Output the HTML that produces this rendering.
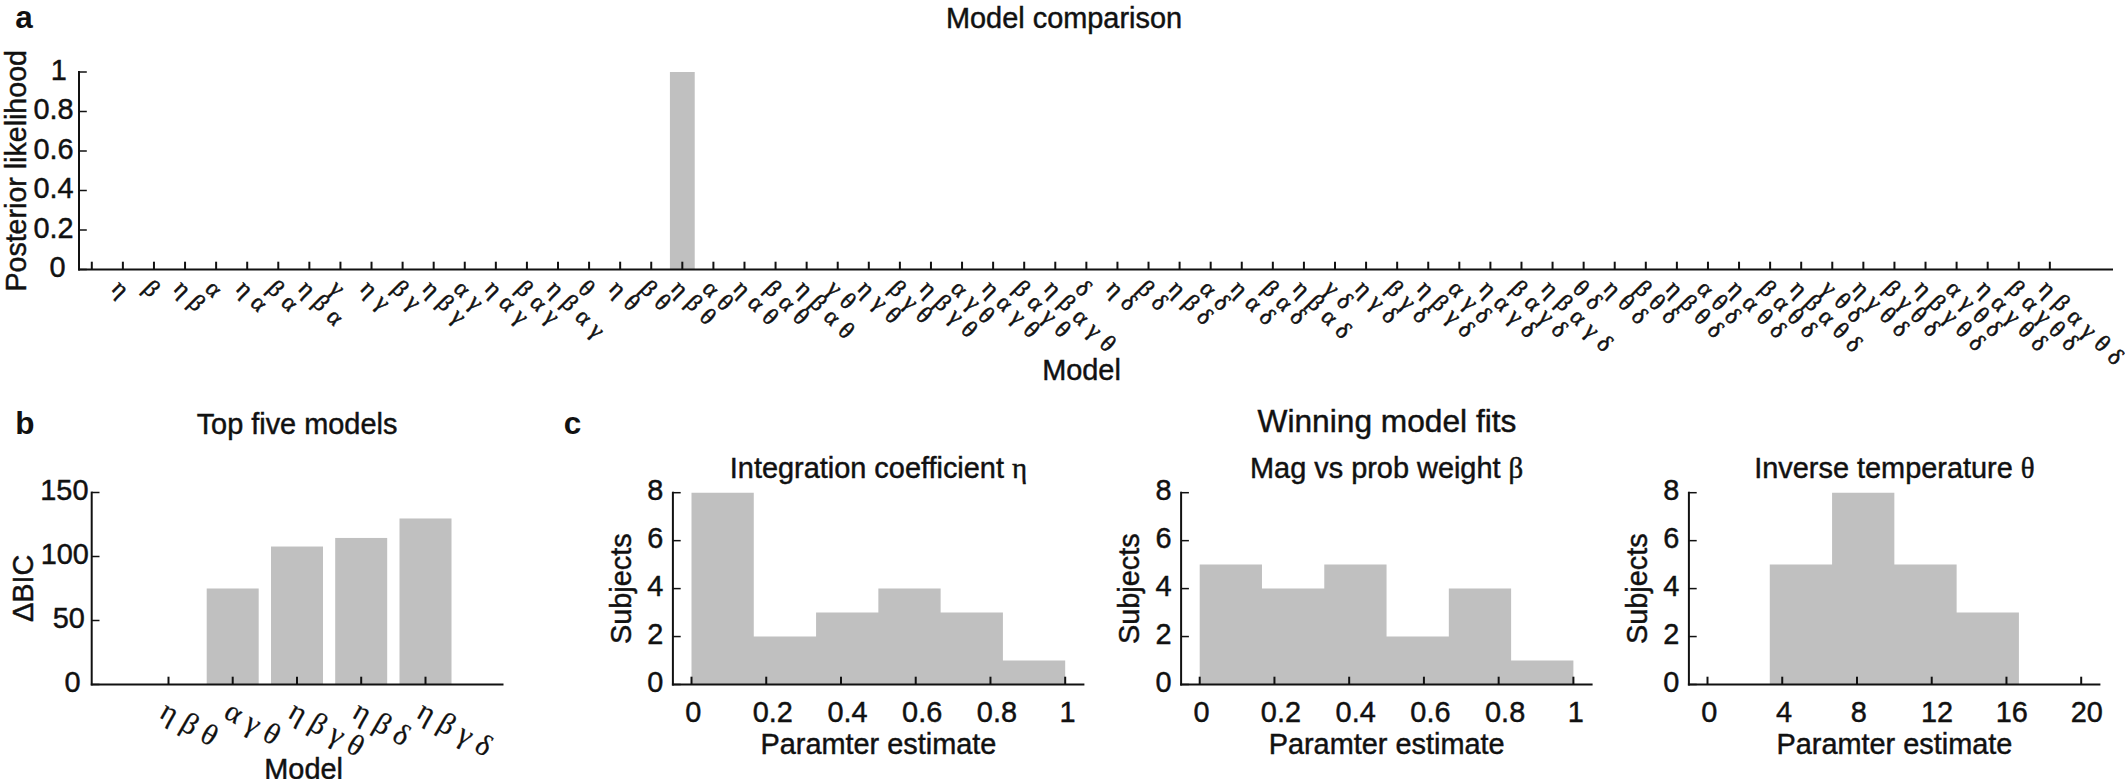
<!DOCTYPE html>
<html lang="en"><head><meta charset="utf-8"><title>Model comparison</title>
<style>
html,body{margin:0;padding:0;background:#fff;}
body{width:2125px;height:779px;overflow:hidden;}
svg{display:block;}
text{white-space:pre;}
</style></head><body>
<svg width="2125" height="779" viewBox="0 0 2125 779">
<rect x="0" y="0" width="2125" height="779" fill="#ffffff"/>
<text x="15.20" y="28.30" font-family='"Liberation Sans", sans-serif' font-size="31.5" font-weight="bold" text-anchor="start" fill="#111" stroke="#111" stroke-width="0">a</text>
<text x="1064.00" y="27.50" font-family='"Liberation Sans", sans-serif' font-size="28.9" font-weight="normal" text-anchor="middle" fill="#111" stroke="#111" stroke-width="0.45">Model comparison</text>
<rect x="669.92" y="72.00" width="24.80" height="197.50" fill="#c0c0c0"/>
<line x1="79.00" y1="71.10" x2="79.00" y2="270.40" stroke="#111" stroke-width="2.0"/>
<line x1="78.10" y1="269.50" x2="2113.00" y2="269.50" stroke="#111" stroke-width="2.0"/>
<line x1="79.00" y1="269.50" x2="86.80" y2="269.50" stroke="#111" stroke-width="1.5"/>
<text x="65.60" y="277.10" font-family='"Liberation Sans", sans-serif' font-size="28.9" font-weight="normal" text-anchor="end" fill="#111" stroke="#111" stroke-width="0.45">0</text>
<line x1="79.00" y1="230.00" x2="86.80" y2="230.00" stroke="#111" stroke-width="1.5"/>
<text x="73.60" y="237.60" font-family='"Liberation Sans", sans-serif' font-size="28.9" font-weight="normal" text-anchor="end" fill="#111" stroke="#111" stroke-width="0.45">0.2</text>
<line x1="79.00" y1="190.50" x2="86.80" y2="190.50" stroke="#111" stroke-width="1.5"/>
<text x="73.60" y="198.10" font-family='"Liberation Sans", sans-serif' font-size="28.9" font-weight="normal" text-anchor="end" fill="#111" stroke="#111" stroke-width="0.45">0.4</text>
<line x1="79.00" y1="151.00" x2="86.80" y2="151.00" stroke="#111" stroke-width="1.5"/>
<text x="73.60" y="158.60" font-family='"Liberation Sans", sans-serif' font-size="28.9" font-weight="normal" text-anchor="end" fill="#111" stroke="#111" stroke-width="0.45">0.6</text>
<line x1="79.00" y1="111.50" x2="86.80" y2="111.50" stroke="#111" stroke-width="1.5"/>
<text x="73.60" y="119.10" font-family='"Liberation Sans", sans-serif' font-size="28.9" font-weight="normal" text-anchor="end" fill="#111" stroke="#111" stroke-width="0.45">0.8</text>
<line x1="79.00" y1="72.00" x2="86.80" y2="72.00" stroke="#111" stroke-width="1.5"/>
<text x="66.80" y="79.60" font-family='"Liberation Sans", sans-serif' font-size="28.9" font-weight="normal" text-anchor="end" fill="#111" stroke="#111" stroke-width="0.45">1</text>
<text transform="translate(26.20,170.80) rotate(-90)" font-family='"Liberation Sans", sans-serif' font-size="28.6" font-weight="normal" text-anchor="middle" fill="#111" stroke="#111" stroke-width="0.45">Posterior likelihood</text>
<line x1="91.80" y1="269.50" x2="91.80" y2="261.70" stroke="#111" stroke-width="2.0"/>
<line x1="122.88" y1="269.50" x2="122.88" y2="261.70" stroke="#111" stroke-width="2.0"/>
<text transform="translate(110.68,289.80) rotate(45)" font-family='"Liberation Serif", serif' font-size="24.0" font-weight="normal" text-anchor="start" fill="#111" stroke="#111" stroke-width="0.55" word-spacing="1.5">η</text>
<line x1="153.96" y1="269.50" x2="153.96" y2="261.70" stroke="#111" stroke-width="2.0"/>
<text transform="translate(141.76,289.80) rotate(45)" font-family='"Liberation Serif", serif' font-size="24.0" font-weight="normal" text-anchor="start" fill="#111" stroke="#111" stroke-width="0.55" word-spacing="1.5">β</text>
<line x1="185.04" y1="269.50" x2="185.04" y2="261.70" stroke="#111" stroke-width="2.0"/>
<text transform="translate(172.84,289.80) rotate(45)" font-family='"Liberation Serif", serif' font-size="24.0" font-weight="normal" text-anchor="start" fill="#111" stroke="#111" stroke-width="0.55" word-spacing="1.5">η β</text>
<line x1="216.12" y1="269.50" x2="216.12" y2="261.70" stroke="#111" stroke-width="2.0"/>
<text transform="translate(203.92,289.80) rotate(45)" font-family='"Liberation Serif", serif' font-size="24.0" font-weight="normal" text-anchor="start" fill="#111" stroke="#111" stroke-width="0.55" word-spacing="1.5">α</text>
<line x1="247.20" y1="269.50" x2="247.20" y2="261.70" stroke="#111" stroke-width="2.0"/>
<text transform="translate(235.00,289.80) rotate(45)" font-family='"Liberation Serif", serif' font-size="24.0" font-weight="normal" text-anchor="start" fill="#111" stroke="#111" stroke-width="0.55" word-spacing="1.5">η α</text>
<line x1="278.28" y1="269.50" x2="278.28" y2="261.70" stroke="#111" stroke-width="2.0"/>
<text transform="translate(266.08,289.80) rotate(45)" font-family='"Liberation Serif", serif' font-size="24.0" font-weight="normal" text-anchor="start" fill="#111" stroke="#111" stroke-width="0.55" word-spacing="1.5">β α</text>
<line x1="309.36" y1="269.50" x2="309.36" y2="261.70" stroke="#111" stroke-width="2.0"/>
<text transform="translate(297.16,289.80) rotate(45)" font-family='"Liberation Serif", serif' font-size="24.0" font-weight="normal" text-anchor="start" fill="#111" stroke="#111" stroke-width="0.55" word-spacing="1.5">η β α</text>
<line x1="340.44" y1="269.50" x2="340.44" y2="261.70" stroke="#111" stroke-width="2.0"/>
<text transform="translate(328.24,289.80) rotate(45)" font-family='"Liberation Serif", serif' font-size="24.0" font-weight="normal" text-anchor="start" fill="#111" stroke="#111" stroke-width="0.55" word-spacing="1.5">γ</text>
<line x1="371.52" y1="269.50" x2="371.52" y2="261.70" stroke="#111" stroke-width="2.0"/>
<text transform="translate(359.32,289.80) rotate(45)" font-family='"Liberation Serif", serif' font-size="24.0" font-weight="normal" text-anchor="start" fill="#111" stroke="#111" stroke-width="0.55" word-spacing="1.5">η γ</text>
<line x1="402.60" y1="269.50" x2="402.60" y2="261.70" stroke="#111" stroke-width="2.0"/>
<text transform="translate(390.40,289.80) rotate(45)" font-family='"Liberation Serif", serif' font-size="24.0" font-weight="normal" text-anchor="start" fill="#111" stroke="#111" stroke-width="0.55" word-spacing="1.5">β γ</text>
<line x1="433.68" y1="269.50" x2="433.68" y2="261.70" stroke="#111" stroke-width="2.0"/>
<text transform="translate(421.48,289.80) rotate(45)" font-family='"Liberation Serif", serif' font-size="24.0" font-weight="normal" text-anchor="start" fill="#111" stroke="#111" stroke-width="0.55" word-spacing="1.5">η β γ</text>
<line x1="464.76" y1="269.50" x2="464.76" y2="261.70" stroke="#111" stroke-width="2.0"/>
<text transform="translate(452.56,289.80) rotate(45)" font-family='"Liberation Serif", serif' font-size="24.0" font-weight="normal" text-anchor="start" fill="#111" stroke="#111" stroke-width="0.55" word-spacing="1.5">α γ</text>
<line x1="495.84" y1="269.50" x2="495.84" y2="261.70" stroke="#111" stroke-width="2.0"/>
<text transform="translate(483.64,289.80) rotate(45)" font-family='"Liberation Serif", serif' font-size="24.0" font-weight="normal" text-anchor="start" fill="#111" stroke="#111" stroke-width="0.55" word-spacing="1.5">η α γ</text>
<line x1="526.92" y1="269.50" x2="526.92" y2="261.70" stroke="#111" stroke-width="2.0"/>
<text transform="translate(514.72,289.80) rotate(45)" font-family='"Liberation Serif", serif' font-size="24.0" font-weight="normal" text-anchor="start" fill="#111" stroke="#111" stroke-width="0.55" word-spacing="1.5">β α γ</text>
<line x1="558.00" y1="269.50" x2="558.00" y2="261.70" stroke="#111" stroke-width="2.0"/>
<text transform="translate(545.80,289.80) rotate(45)" font-family='"Liberation Serif", serif' font-size="24.0" font-weight="normal" text-anchor="start" fill="#111" stroke="#111" stroke-width="0.55" word-spacing="1.5">η β α γ</text>
<line x1="589.08" y1="269.50" x2="589.08" y2="261.70" stroke="#111" stroke-width="2.0"/>
<text transform="translate(576.88,289.80) rotate(45)" font-family='"Liberation Serif", serif' font-size="24.0" font-weight="normal" text-anchor="start" fill="#111" stroke="#111" stroke-width="0.55" word-spacing="1.5">θ</text>
<line x1="620.16" y1="269.50" x2="620.16" y2="261.70" stroke="#111" stroke-width="2.0"/>
<text transform="translate(607.96,289.80) rotate(45)" font-family='"Liberation Serif", serif' font-size="24.0" font-weight="normal" text-anchor="start" fill="#111" stroke="#111" stroke-width="0.55" word-spacing="1.5">η θ</text>
<line x1="651.24" y1="269.50" x2="651.24" y2="261.70" stroke="#111" stroke-width="2.0"/>
<text transform="translate(639.04,289.80) rotate(45)" font-family='"Liberation Serif", serif' font-size="24.0" font-weight="normal" text-anchor="start" fill="#111" stroke="#111" stroke-width="0.55" word-spacing="1.5">β θ</text>
<line x1="682.32" y1="269.50" x2="682.32" y2="261.70" stroke="#111" stroke-width="2.0"/>
<text transform="translate(670.12,289.80) rotate(45)" font-family='"Liberation Serif", serif' font-size="24.0" font-weight="normal" text-anchor="start" fill="#111" stroke="#111" stroke-width="0.55" word-spacing="1.5">η β θ</text>
<line x1="713.40" y1="269.50" x2="713.40" y2="261.70" stroke="#111" stroke-width="2.0"/>
<text transform="translate(701.20,289.80) rotate(45)" font-family='"Liberation Serif", serif' font-size="24.0" font-weight="normal" text-anchor="start" fill="#111" stroke="#111" stroke-width="0.55" word-spacing="1.5">α θ</text>
<line x1="744.48" y1="269.50" x2="744.48" y2="261.70" stroke="#111" stroke-width="2.0"/>
<text transform="translate(732.28,289.80) rotate(45)" font-family='"Liberation Serif", serif' font-size="24.0" font-weight="normal" text-anchor="start" fill="#111" stroke="#111" stroke-width="0.55" word-spacing="1.5">η α θ</text>
<line x1="775.56" y1="269.50" x2="775.56" y2="261.70" stroke="#111" stroke-width="2.0"/>
<text transform="translate(763.36,289.80) rotate(45)" font-family='"Liberation Serif", serif' font-size="24.0" font-weight="normal" text-anchor="start" fill="#111" stroke="#111" stroke-width="0.55" word-spacing="1.5">β α θ</text>
<line x1="806.64" y1="269.50" x2="806.64" y2="261.70" stroke="#111" stroke-width="2.0"/>
<text transform="translate(794.44,289.80) rotate(45)" font-family='"Liberation Serif", serif' font-size="24.0" font-weight="normal" text-anchor="start" fill="#111" stroke="#111" stroke-width="0.55" word-spacing="1.5">η β α θ</text>
<line x1="837.72" y1="269.50" x2="837.72" y2="261.70" stroke="#111" stroke-width="2.0"/>
<text transform="translate(825.52,289.80) rotate(45)" font-family='"Liberation Serif", serif' font-size="24.0" font-weight="normal" text-anchor="start" fill="#111" stroke="#111" stroke-width="0.55" word-spacing="1.5">γ θ</text>
<line x1="868.80" y1="269.50" x2="868.80" y2="261.70" stroke="#111" stroke-width="2.0"/>
<text transform="translate(856.60,289.80) rotate(45)" font-family='"Liberation Serif", serif' font-size="24.0" font-weight="normal" text-anchor="start" fill="#111" stroke="#111" stroke-width="0.55" word-spacing="1.5">η γ θ</text>
<line x1="899.88" y1="269.50" x2="899.88" y2="261.70" stroke="#111" stroke-width="2.0"/>
<text transform="translate(887.68,289.80) rotate(45)" font-family='"Liberation Serif", serif' font-size="24.0" font-weight="normal" text-anchor="start" fill="#111" stroke="#111" stroke-width="0.55" word-spacing="1.5">β γ θ</text>
<line x1="930.96" y1="269.50" x2="930.96" y2="261.70" stroke="#111" stroke-width="2.0"/>
<text transform="translate(918.76,289.80) rotate(45)" font-family='"Liberation Serif", serif' font-size="24.0" font-weight="normal" text-anchor="start" fill="#111" stroke="#111" stroke-width="0.55" word-spacing="1.5">η β γ θ</text>
<line x1="962.04" y1="269.50" x2="962.04" y2="261.70" stroke="#111" stroke-width="2.0"/>
<text transform="translate(949.84,289.80) rotate(45)" font-family='"Liberation Serif", serif' font-size="24.0" font-weight="normal" text-anchor="start" fill="#111" stroke="#111" stroke-width="0.55" word-spacing="1.5">α γ θ</text>
<line x1="993.12" y1="269.50" x2="993.12" y2="261.70" stroke="#111" stroke-width="2.0"/>
<text transform="translate(980.92,289.80) rotate(45)" font-family='"Liberation Serif", serif' font-size="24.0" font-weight="normal" text-anchor="start" fill="#111" stroke="#111" stroke-width="0.55" word-spacing="1.5">η α γ θ</text>
<line x1="1024.20" y1="269.50" x2="1024.20" y2="261.70" stroke="#111" stroke-width="2.0"/>
<text transform="translate(1012.00,289.80) rotate(45)" font-family='"Liberation Serif", serif' font-size="24.0" font-weight="normal" text-anchor="start" fill="#111" stroke="#111" stroke-width="0.55" word-spacing="1.5">β α γ θ</text>
<line x1="1055.28" y1="269.50" x2="1055.28" y2="261.70" stroke="#111" stroke-width="2.0"/>
<text transform="translate(1043.08,289.80) rotate(45)" font-family='"Liberation Serif", serif' font-size="24.0" font-weight="normal" text-anchor="start" fill="#111" stroke="#111" stroke-width="0.55" word-spacing="1.5">η β α γ θ</text>
<line x1="1086.36" y1="269.50" x2="1086.36" y2="261.70" stroke="#111" stroke-width="2.0"/>
<text transform="translate(1074.16,289.80) rotate(45)" font-family='"Liberation Serif", serif' font-size="24.0" font-weight="normal" text-anchor="start" fill="#111" stroke="#111" stroke-width="0.55" word-spacing="1.5">δ</text>
<line x1="1117.44" y1="269.50" x2="1117.44" y2="261.70" stroke="#111" stroke-width="2.0"/>
<text transform="translate(1105.24,289.80) rotate(45)" font-family='"Liberation Serif", serif' font-size="24.0" font-weight="normal" text-anchor="start" fill="#111" stroke="#111" stroke-width="0.55" word-spacing="1.5">η δ</text>
<line x1="1148.52" y1="269.50" x2="1148.52" y2="261.70" stroke="#111" stroke-width="2.0"/>
<text transform="translate(1136.32,289.80) rotate(45)" font-family='"Liberation Serif", serif' font-size="24.0" font-weight="normal" text-anchor="start" fill="#111" stroke="#111" stroke-width="0.55" word-spacing="1.5">β δ</text>
<line x1="1179.60" y1="269.50" x2="1179.60" y2="261.70" stroke="#111" stroke-width="2.0"/>
<text transform="translate(1167.40,289.80) rotate(45)" font-family='"Liberation Serif", serif' font-size="24.0" font-weight="normal" text-anchor="start" fill="#111" stroke="#111" stroke-width="0.55" word-spacing="1.5">η β δ</text>
<line x1="1210.68" y1="269.50" x2="1210.68" y2="261.70" stroke="#111" stroke-width="2.0"/>
<text transform="translate(1198.48,289.80) rotate(45)" font-family='"Liberation Serif", serif' font-size="24.0" font-weight="normal" text-anchor="start" fill="#111" stroke="#111" stroke-width="0.55" word-spacing="1.5">α δ</text>
<line x1="1241.76" y1="269.50" x2="1241.76" y2="261.70" stroke="#111" stroke-width="2.0"/>
<text transform="translate(1229.56,289.80) rotate(45)" font-family='"Liberation Serif", serif' font-size="24.0" font-weight="normal" text-anchor="start" fill="#111" stroke="#111" stroke-width="0.55" word-spacing="1.5">η α δ</text>
<line x1="1272.84" y1="269.50" x2="1272.84" y2="261.70" stroke="#111" stroke-width="2.0"/>
<text transform="translate(1260.64,289.80) rotate(45)" font-family='"Liberation Serif", serif' font-size="24.0" font-weight="normal" text-anchor="start" fill="#111" stroke="#111" stroke-width="0.55" word-spacing="1.5">β α δ</text>
<line x1="1303.92" y1="269.50" x2="1303.92" y2="261.70" stroke="#111" stroke-width="2.0"/>
<text transform="translate(1291.72,289.80) rotate(45)" font-family='"Liberation Serif", serif' font-size="24.0" font-weight="normal" text-anchor="start" fill="#111" stroke="#111" stroke-width="0.55" word-spacing="1.5">η β α δ</text>
<line x1="1335.00" y1="269.50" x2="1335.00" y2="261.70" stroke="#111" stroke-width="2.0"/>
<text transform="translate(1322.80,289.80) rotate(45)" font-family='"Liberation Serif", serif' font-size="24.0" font-weight="normal" text-anchor="start" fill="#111" stroke="#111" stroke-width="0.55" word-spacing="1.5">γ δ</text>
<line x1="1366.08" y1="269.50" x2="1366.08" y2="261.70" stroke="#111" stroke-width="2.0"/>
<text transform="translate(1353.88,289.80) rotate(45)" font-family='"Liberation Serif", serif' font-size="24.0" font-weight="normal" text-anchor="start" fill="#111" stroke="#111" stroke-width="0.55" word-spacing="1.5">η γ δ</text>
<line x1="1397.16" y1="269.50" x2="1397.16" y2="261.70" stroke="#111" stroke-width="2.0"/>
<text transform="translate(1384.96,289.80) rotate(45)" font-family='"Liberation Serif", serif' font-size="24.0" font-weight="normal" text-anchor="start" fill="#111" stroke="#111" stroke-width="0.55" word-spacing="1.5">β γ δ</text>
<line x1="1428.24" y1="269.50" x2="1428.24" y2="261.70" stroke="#111" stroke-width="2.0"/>
<text transform="translate(1416.04,289.80) rotate(45)" font-family='"Liberation Serif", serif' font-size="24.0" font-weight="normal" text-anchor="start" fill="#111" stroke="#111" stroke-width="0.55" word-spacing="1.5">η β γ δ</text>
<line x1="1459.32" y1="269.50" x2="1459.32" y2="261.70" stroke="#111" stroke-width="2.0"/>
<text transform="translate(1447.12,289.80) rotate(45)" font-family='"Liberation Serif", serif' font-size="24.0" font-weight="normal" text-anchor="start" fill="#111" stroke="#111" stroke-width="0.55" word-spacing="1.5">α γ δ</text>
<line x1="1490.40" y1="269.50" x2="1490.40" y2="261.70" stroke="#111" stroke-width="2.0"/>
<text transform="translate(1478.20,289.80) rotate(45)" font-family='"Liberation Serif", serif' font-size="24.0" font-weight="normal" text-anchor="start" fill="#111" stroke="#111" stroke-width="0.55" word-spacing="1.5">η α γ δ</text>
<line x1="1521.48" y1="269.50" x2="1521.48" y2="261.70" stroke="#111" stroke-width="2.0"/>
<text transform="translate(1509.28,289.80) rotate(45)" font-family='"Liberation Serif", serif' font-size="24.0" font-weight="normal" text-anchor="start" fill="#111" stroke="#111" stroke-width="0.55" word-spacing="1.5">β α γ δ</text>
<line x1="1552.56" y1="269.50" x2="1552.56" y2="261.70" stroke="#111" stroke-width="2.0"/>
<text transform="translate(1540.36,289.80) rotate(45)" font-family='"Liberation Serif", serif' font-size="24.0" font-weight="normal" text-anchor="start" fill="#111" stroke="#111" stroke-width="0.55" word-spacing="1.5">η β α γ δ</text>
<line x1="1583.64" y1="269.50" x2="1583.64" y2="261.70" stroke="#111" stroke-width="2.0"/>
<text transform="translate(1571.44,289.80) rotate(45)" font-family='"Liberation Serif", serif' font-size="24.0" font-weight="normal" text-anchor="start" fill="#111" stroke="#111" stroke-width="0.55" word-spacing="1.5">θ δ</text>
<line x1="1614.72" y1="269.50" x2="1614.72" y2="261.70" stroke="#111" stroke-width="2.0"/>
<text transform="translate(1602.52,289.80) rotate(45)" font-family='"Liberation Serif", serif' font-size="24.0" font-weight="normal" text-anchor="start" fill="#111" stroke="#111" stroke-width="0.55" word-spacing="1.5">η θ δ</text>
<line x1="1645.80" y1="269.50" x2="1645.80" y2="261.70" stroke="#111" stroke-width="2.0"/>
<text transform="translate(1633.60,289.80) rotate(45)" font-family='"Liberation Serif", serif' font-size="24.0" font-weight="normal" text-anchor="start" fill="#111" stroke="#111" stroke-width="0.55" word-spacing="1.5">β θ δ</text>
<line x1="1676.88" y1="269.50" x2="1676.88" y2="261.70" stroke="#111" stroke-width="2.0"/>
<text transform="translate(1664.68,289.80) rotate(45)" font-family='"Liberation Serif", serif' font-size="24.0" font-weight="normal" text-anchor="start" fill="#111" stroke="#111" stroke-width="0.55" word-spacing="1.5">η β θ δ</text>
<line x1="1707.96" y1="269.50" x2="1707.96" y2="261.70" stroke="#111" stroke-width="2.0"/>
<text transform="translate(1695.76,289.80) rotate(45)" font-family='"Liberation Serif", serif' font-size="24.0" font-weight="normal" text-anchor="start" fill="#111" stroke="#111" stroke-width="0.55" word-spacing="1.5">α θ δ</text>
<line x1="1739.04" y1="269.50" x2="1739.04" y2="261.70" stroke="#111" stroke-width="2.0"/>
<text transform="translate(1726.84,289.80) rotate(45)" font-family='"Liberation Serif", serif' font-size="24.0" font-weight="normal" text-anchor="start" fill="#111" stroke="#111" stroke-width="0.55" word-spacing="1.5">η α θ δ</text>
<line x1="1770.12" y1="269.50" x2="1770.12" y2="261.70" stroke="#111" stroke-width="2.0"/>
<text transform="translate(1757.92,289.80) rotate(45)" font-family='"Liberation Serif", serif' font-size="24.0" font-weight="normal" text-anchor="start" fill="#111" stroke="#111" stroke-width="0.55" word-spacing="1.5">β α θ δ</text>
<line x1="1801.20" y1="269.50" x2="1801.20" y2="261.70" stroke="#111" stroke-width="2.0"/>
<text transform="translate(1789.00,289.80) rotate(45)" font-family='"Liberation Serif", serif' font-size="24.0" font-weight="normal" text-anchor="start" fill="#111" stroke="#111" stroke-width="0.55" word-spacing="1.5">η β α θ δ</text>
<line x1="1832.28" y1="269.50" x2="1832.28" y2="261.70" stroke="#111" stroke-width="2.0"/>
<text transform="translate(1820.08,289.80) rotate(45)" font-family='"Liberation Serif", serif' font-size="24.0" font-weight="normal" text-anchor="start" fill="#111" stroke="#111" stroke-width="0.55" word-spacing="1.5">γ θ δ</text>
<line x1="1863.36" y1="269.50" x2="1863.36" y2="261.70" stroke="#111" stroke-width="2.0"/>
<text transform="translate(1851.16,289.80) rotate(45)" font-family='"Liberation Serif", serif' font-size="24.0" font-weight="normal" text-anchor="start" fill="#111" stroke="#111" stroke-width="0.55" word-spacing="1.5">η γ θ δ</text>
<line x1="1894.44" y1="269.50" x2="1894.44" y2="261.70" stroke="#111" stroke-width="2.0"/>
<text transform="translate(1882.24,289.80) rotate(45)" font-family='"Liberation Serif", serif' font-size="24.0" font-weight="normal" text-anchor="start" fill="#111" stroke="#111" stroke-width="0.55" word-spacing="1.5">β γ θ δ</text>
<line x1="1925.52" y1="269.50" x2="1925.52" y2="261.70" stroke="#111" stroke-width="2.0"/>
<text transform="translate(1913.32,289.80) rotate(45)" font-family='"Liberation Serif", serif' font-size="24.0" font-weight="normal" text-anchor="start" fill="#111" stroke="#111" stroke-width="0.55" word-spacing="1.5">η β γ θ δ</text>
<line x1="1956.60" y1="269.50" x2="1956.60" y2="261.70" stroke="#111" stroke-width="2.0"/>
<text transform="translate(1944.40,289.80) rotate(45)" font-family='"Liberation Serif", serif' font-size="24.0" font-weight="normal" text-anchor="start" fill="#111" stroke="#111" stroke-width="0.55" word-spacing="1.5">α γ θ δ</text>
<line x1="1987.68" y1="269.50" x2="1987.68" y2="261.70" stroke="#111" stroke-width="2.0"/>
<text transform="translate(1975.48,289.80) rotate(45)" font-family='"Liberation Serif", serif' font-size="24.0" font-weight="normal" text-anchor="start" fill="#111" stroke="#111" stroke-width="0.55" word-spacing="1.5">η α γ θ δ</text>
<line x1="2018.76" y1="269.50" x2="2018.76" y2="261.70" stroke="#111" stroke-width="2.0"/>
<text transform="translate(2006.56,289.80) rotate(45)" font-family='"Liberation Serif", serif' font-size="24.0" font-weight="normal" text-anchor="start" fill="#111" stroke="#111" stroke-width="0.55" word-spacing="1.5">β α γ θ δ</text>
<line x1="2049.84" y1="269.50" x2="2049.84" y2="261.70" stroke="#111" stroke-width="2.0"/>
<text transform="translate(2037.64,289.80) rotate(45)" font-family='"Liberation Serif", serif' font-size="24.0" font-weight="normal" text-anchor="start" fill="#111" stroke="#111" stroke-width="0.55" word-spacing="1.5">η β α γ θ δ</text>
<text x="1081.50" y="379.80" font-family='"Liberation Sans", sans-serif' font-size="28.9" font-weight="normal" text-anchor="middle" fill="#111" stroke="#111" stroke-width="0.45">Model</text>
<text x="15.20" y="434.00" font-family='"Liberation Sans", sans-serif' font-size="31.5" font-weight="bold" text-anchor="start" fill="#111" stroke="#111" stroke-width="0">b</text>
<text x="297.00" y="433.80" font-family='"Liberation Sans", sans-serif' font-size="28.9" font-weight="normal" text-anchor="middle" fill="#111" stroke="#111" stroke-width="0.45">Top five models</text>
<rect x="206.70" y="588.50" width="52.00" height="96.00" fill="#c0c0c0"/>
<rect x="271.00" y="546.52" width="52.00" height="137.98" fill="#c0c0c0"/>
<rect x="335.20" y="537.94" width="52.00" height="146.56" fill="#c0c0c0"/>
<rect x="399.50" y="518.48" width="52.00" height="166.02" fill="#c0c0c0"/>
<line x1="91.70" y1="491.60" x2="91.70" y2="685.40" stroke="#111" stroke-width="2.0"/>
<line x1="90.80" y1="684.50" x2="503.50" y2="684.50" stroke="#111" stroke-width="2.0"/>
<line x1="91.70" y1="684.50" x2="99.50" y2="684.50" stroke="#111" stroke-width="1.5"/>
<text x="80.70" y="692.10" font-family='"Liberation Sans", sans-serif' font-size="28.9" font-weight="normal" text-anchor="end" fill="#111" stroke="#111" stroke-width="0.45">0</text>
<line x1="91.70" y1="620.50" x2="99.50" y2="620.50" stroke="#111" stroke-width="1.5"/>
<text x="84.80" y="628.10" font-family='"Liberation Sans", sans-serif' font-size="28.9" font-weight="normal" text-anchor="end" fill="#111" stroke="#111" stroke-width="0.45">50</text>
<line x1="91.70" y1="556.50" x2="99.50" y2="556.50" stroke="#111" stroke-width="1.5"/>
<text x="88.90" y="564.10" font-family='"Liberation Sans", sans-serif' font-size="28.9" font-weight="normal" text-anchor="end" fill="#111" stroke="#111" stroke-width="0.45">100</text>
<line x1="91.70" y1="492.50" x2="99.50" y2="492.50" stroke="#111" stroke-width="1.5"/>
<text x="88.50" y="500.10" font-family='"Liberation Sans", sans-serif' font-size="28.9" font-weight="normal" text-anchor="end" fill="#111" stroke="#111" stroke-width="0.45">150</text>
<text transform="translate(32.90,588.30) rotate(-90)" font-family='"Liberation Sans", sans-serif' font-size="28.9" font-weight="normal" text-anchor="middle" fill="#111" stroke="#111" stroke-width="0.45">ΔBIC</text>
<line x1="168.50" y1="684.50" x2="168.50" y2="676.70" stroke="#111" stroke-width="2.0"/>
<text transform="translate(158.35,716.85) rotate(30)" font-family='"Liberation Serif", serif' font-size="30" font-weight="normal" text-anchor="start" fill="#111" stroke="#111" stroke-width="0.25">η β θ</text>
<line x1="232.70" y1="684.50" x2="232.70" y2="676.70" stroke="#111" stroke-width="2.0"/>
<text transform="translate(222.55,716.85) rotate(30)" font-family='"Liberation Serif", serif' font-size="30" font-weight="normal" text-anchor="start" fill="#111" stroke="#111" stroke-width="0.25">α γ θ</text>
<line x1="297.00" y1="684.50" x2="297.00" y2="676.70" stroke="#111" stroke-width="2.0"/>
<text transform="translate(286.85,716.85) rotate(30)" font-family='"Liberation Serif", serif' font-size="30" font-weight="normal" text-anchor="start" fill="#111" stroke="#111" stroke-width="0.25">η β γ θ</text>
<line x1="361.20" y1="684.50" x2="361.20" y2="676.70" stroke="#111" stroke-width="2.0"/>
<text transform="translate(351.05,716.85) rotate(30)" font-family='"Liberation Serif", serif' font-size="30" font-weight="normal" text-anchor="start" fill="#111" stroke="#111" stroke-width="0.25">η β δ</text>
<line x1="425.50" y1="684.50" x2="425.50" y2="676.70" stroke="#111" stroke-width="2.0"/>
<text transform="translate(415.35,716.85) rotate(30)" font-family='"Liberation Serif", serif' font-size="30" font-weight="normal" text-anchor="start" fill="#111" stroke="#111" stroke-width="0.25">η β γ δ</text>
<text x="303.60" y="778.60" font-family='"Liberation Sans", sans-serif' font-size="28.9" font-weight="normal" text-anchor="middle" fill="#111" stroke="#111" stroke-width="0.45">Model</text>
<text x="563.70" y="434.20" font-family='"Liberation Sans", sans-serif' font-size="31.5" font-weight="bold" text-anchor="start" fill="#111" stroke="#111" stroke-width="0">c</text>
<text x="1387.00" y="431.90" font-family='"Liberation Sans", sans-serif' font-size="31.7" font-weight="normal" text-anchor="middle" fill="#111" stroke="#111" stroke-width="0.45">Winning model fits</text>
<polygon fill="#c0c0c0" points="691.50,684.50 691.50,492.70 753.78,492.70 753.78,636.55 816.07,636.55 816.07,612.58 878.35,612.58 878.35,588.60 940.63,588.60 940.63,612.58 1002.92,612.58 1002.92,660.52 1065.20,660.52 1065.20,684.50"/>
<line x1="672.90" y1="491.70" x2="672.90" y2="685.50" stroke="#111" stroke-width="2.0"/>
<line x1="671.90" y1="684.50" x2="1084.40" y2="684.50" stroke="#111" stroke-width="2.0"/>
<line x1="672.90" y1="684.50" x2="680.70" y2="684.50" stroke="#111" stroke-width="1.5"/>
<text x="663.30" y="692.10" font-family='"Liberation Sans", sans-serif' font-size="28.9" font-weight="normal" text-anchor="end" fill="#111" stroke="#111" stroke-width="0.45">0</text>
<line x1="672.90" y1="636.55" x2="680.70" y2="636.55" stroke="#111" stroke-width="1.5"/>
<text x="663.30" y="644.15" font-family='"Liberation Sans", sans-serif' font-size="28.9" font-weight="normal" text-anchor="end" fill="#111" stroke="#111" stroke-width="0.45">2</text>
<line x1="672.90" y1="588.60" x2="680.70" y2="588.60" stroke="#111" stroke-width="1.5"/>
<text x="663.30" y="596.20" font-family='"Liberation Sans", sans-serif' font-size="28.9" font-weight="normal" text-anchor="end" fill="#111" stroke="#111" stroke-width="0.45">4</text>
<line x1="672.90" y1="540.65" x2="680.70" y2="540.65" stroke="#111" stroke-width="1.5"/>
<text x="663.30" y="548.25" font-family='"Liberation Sans", sans-serif' font-size="28.9" font-weight="normal" text-anchor="end" fill="#111" stroke="#111" stroke-width="0.45">6</text>
<line x1="672.90" y1="492.70" x2="680.70" y2="492.70" stroke="#111" stroke-width="1.5"/>
<text x="663.30" y="500.30" font-family='"Liberation Sans", sans-serif' font-size="28.9" font-weight="normal" text-anchor="end" fill="#111" stroke="#111" stroke-width="0.45">8</text>
<line x1="691.50" y1="684.50" x2="691.50" y2="676.70" stroke="#111" stroke-width="2.0"/>
<text x="685.30" y="721.60" font-family='"Liberation Sans", sans-serif' font-size="28.9" font-weight="normal" text-anchor="start" fill="#111" stroke="#111" stroke-width="0.45">0</text>
<line x1="766.24" y1="684.50" x2="766.24" y2="676.70" stroke="#111" stroke-width="2.0"/>
<text x="752.64" y="721.60" font-family='"Liberation Sans", sans-serif' font-size="28.9" font-weight="normal" text-anchor="start" fill="#111" stroke="#111" stroke-width="0.45">0.2</text>
<line x1="840.98" y1="684.50" x2="840.98" y2="676.70" stroke="#111" stroke-width="2.0"/>
<text x="827.38" y="721.60" font-family='"Liberation Sans", sans-serif' font-size="28.9" font-weight="normal" text-anchor="start" fill="#111" stroke="#111" stroke-width="0.45">0.4</text>
<line x1="915.72" y1="684.50" x2="915.72" y2="676.70" stroke="#111" stroke-width="2.0"/>
<text x="902.12" y="721.60" font-family='"Liberation Sans", sans-serif' font-size="28.9" font-weight="normal" text-anchor="start" fill="#111" stroke="#111" stroke-width="0.45">0.6</text>
<line x1="990.46" y1="684.50" x2="990.46" y2="676.70" stroke="#111" stroke-width="2.0"/>
<text x="976.86" y="721.60" font-family='"Liberation Sans", sans-serif' font-size="28.9" font-weight="normal" text-anchor="start" fill="#111" stroke="#111" stroke-width="0.45">0.8</text>
<line x1="1065.20" y1="684.50" x2="1065.20" y2="676.70" stroke="#111" stroke-width="2.0"/>
<text x="1059.60" y="721.60" font-family='"Liberation Sans", sans-serif' font-size="28.9" font-weight="normal" text-anchor="start" fill="#111" stroke="#111" stroke-width="0.45">1</text>
<text transform="translate(631.10,588.70) rotate(-90)" font-family='"Liberation Sans", sans-serif' font-size="28.9" font-weight="normal" text-anchor="middle" fill="#111" stroke="#111" stroke-width="0.45">Subjects</text>
<text x="878.45" y="478.30" font-family='"Liberation Sans", sans-serif' font-size="28.9" font-weight="normal" text-anchor="middle" fill="#111" stroke="#111" stroke-width="0.45">Integration coefficient <tspan font-family='"Liberation Serif", serif'>η</tspan></text>
<text x="878.45" y="754.00" font-family='"Liberation Sans", sans-serif' font-size="28.9" font-weight="normal" text-anchor="middle" fill="#111" stroke="#111" stroke-width="0.45">Paramter estimate</text>
<polygon fill="#c0c0c0" points="1199.70,684.50 1199.70,564.62 1261.98,564.62 1261.98,588.60 1324.27,588.60 1324.27,564.62 1386.55,564.62 1386.55,636.55 1448.83,636.55 1448.83,588.60 1511.12,588.60 1511.12,660.52 1573.40,660.52 1573.40,684.50"/>
<line x1="1181.10" y1="491.70" x2="1181.10" y2="685.50" stroke="#111" stroke-width="2.0"/>
<line x1="1180.10" y1="684.50" x2="1592.60" y2="684.50" stroke="#111" stroke-width="2.0"/>
<line x1="1181.10" y1="684.50" x2="1188.90" y2="684.50" stroke="#111" stroke-width="1.5"/>
<text x="1171.50" y="692.10" font-family='"Liberation Sans", sans-serif' font-size="28.9" font-weight="normal" text-anchor="end" fill="#111" stroke="#111" stroke-width="0.45">0</text>
<line x1="1181.10" y1="636.55" x2="1188.90" y2="636.55" stroke="#111" stroke-width="1.5"/>
<text x="1171.50" y="644.15" font-family='"Liberation Sans", sans-serif' font-size="28.9" font-weight="normal" text-anchor="end" fill="#111" stroke="#111" stroke-width="0.45">2</text>
<line x1="1181.10" y1="588.60" x2="1188.90" y2="588.60" stroke="#111" stroke-width="1.5"/>
<text x="1171.50" y="596.20" font-family='"Liberation Sans", sans-serif' font-size="28.9" font-weight="normal" text-anchor="end" fill="#111" stroke="#111" stroke-width="0.45">4</text>
<line x1="1181.10" y1="540.65" x2="1188.90" y2="540.65" stroke="#111" stroke-width="1.5"/>
<text x="1171.50" y="548.25" font-family='"Liberation Sans", sans-serif' font-size="28.9" font-weight="normal" text-anchor="end" fill="#111" stroke="#111" stroke-width="0.45">6</text>
<line x1="1181.10" y1="492.70" x2="1188.90" y2="492.70" stroke="#111" stroke-width="1.5"/>
<text x="1171.50" y="500.30" font-family='"Liberation Sans", sans-serif' font-size="28.9" font-weight="normal" text-anchor="end" fill="#111" stroke="#111" stroke-width="0.45">8</text>
<line x1="1199.70" y1="684.50" x2="1199.70" y2="676.70" stroke="#111" stroke-width="2.0"/>
<text x="1193.50" y="721.60" font-family='"Liberation Sans", sans-serif' font-size="28.9" font-weight="normal" text-anchor="start" fill="#111" stroke="#111" stroke-width="0.45">0</text>
<line x1="1274.44" y1="684.50" x2="1274.44" y2="676.70" stroke="#111" stroke-width="2.0"/>
<text x="1260.84" y="721.60" font-family='"Liberation Sans", sans-serif' font-size="28.9" font-weight="normal" text-anchor="start" fill="#111" stroke="#111" stroke-width="0.45">0.2</text>
<line x1="1349.18" y1="684.50" x2="1349.18" y2="676.70" stroke="#111" stroke-width="2.0"/>
<text x="1335.58" y="721.60" font-family='"Liberation Sans", sans-serif' font-size="28.9" font-weight="normal" text-anchor="start" fill="#111" stroke="#111" stroke-width="0.45">0.4</text>
<line x1="1423.92" y1="684.50" x2="1423.92" y2="676.70" stroke="#111" stroke-width="2.0"/>
<text x="1410.32" y="721.60" font-family='"Liberation Sans", sans-serif' font-size="28.9" font-weight="normal" text-anchor="start" fill="#111" stroke="#111" stroke-width="0.45">0.6</text>
<line x1="1498.66" y1="684.50" x2="1498.66" y2="676.70" stroke="#111" stroke-width="2.0"/>
<text x="1485.06" y="721.60" font-family='"Liberation Sans", sans-serif' font-size="28.9" font-weight="normal" text-anchor="start" fill="#111" stroke="#111" stroke-width="0.45">0.8</text>
<line x1="1573.40" y1="684.50" x2="1573.40" y2="676.70" stroke="#111" stroke-width="2.0"/>
<text x="1567.80" y="721.60" font-family='"Liberation Sans", sans-serif' font-size="28.9" font-weight="normal" text-anchor="start" fill="#111" stroke="#111" stroke-width="0.45">1</text>
<text transform="translate(1139.30,588.70) rotate(-90)" font-family='"Liberation Sans", sans-serif' font-size="28.9" font-weight="normal" text-anchor="middle" fill="#111" stroke="#111" stroke-width="0.45">Subjects</text>
<text x="1386.65" y="478.30" font-family='"Liberation Sans", sans-serif' font-size="28.9" font-weight="normal" text-anchor="middle" fill="#111" stroke="#111" stroke-width="0.45">Mag vs prob weight <tspan font-family='"Liberation Serif", serif'>β</tspan></text>
<text x="1386.65" y="754.00" font-family='"Liberation Sans", sans-serif' font-size="28.9" font-weight="normal" text-anchor="middle" fill="#111" stroke="#111" stroke-width="0.45">Paramter estimate</text>
<polygon fill="#c0c0c0" points="1769.78,684.50 1769.78,564.62 1832.07,564.62 1832.07,492.70 1894.35,492.70 1894.35,564.62 1956.63,564.62 1956.63,612.58 2018.92,612.58 2018.92,684.50"/>
<line x1="1688.90" y1="491.70" x2="1688.90" y2="685.50" stroke="#111" stroke-width="2.0"/>
<line x1="1687.90" y1="684.50" x2="2100.40" y2="684.50" stroke="#111" stroke-width="2.0"/>
<line x1="1688.90" y1="684.50" x2="1696.70" y2="684.50" stroke="#111" stroke-width="1.5"/>
<text x="1679.30" y="692.10" font-family='"Liberation Sans", sans-serif' font-size="28.9" font-weight="normal" text-anchor="end" fill="#111" stroke="#111" stroke-width="0.45">0</text>
<line x1="1688.90" y1="636.55" x2="1696.70" y2="636.55" stroke="#111" stroke-width="1.5"/>
<text x="1679.30" y="644.15" font-family='"Liberation Sans", sans-serif' font-size="28.9" font-weight="normal" text-anchor="end" fill="#111" stroke="#111" stroke-width="0.45">2</text>
<line x1="1688.90" y1="588.60" x2="1696.70" y2="588.60" stroke="#111" stroke-width="1.5"/>
<text x="1679.30" y="596.20" font-family='"Liberation Sans", sans-serif' font-size="28.9" font-weight="normal" text-anchor="end" fill="#111" stroke="#111" stroke-width="0.45">4</text>
<line x1="1688.90" y1="540.65" x2="1696.70" y2="540.65" stroke="#111" stroke-width="1.5"/>
<text x="1679.30" y="548.25" font-family='"Liberation Sans", sans-serif' font-size="28.9" font-weight="normal" text-anchor="end" fill="#111" stroke="#111" stroke-width="0.45">6</text>
<line x1="1688.90" y1="492.70" x2="1696.70" y2="492.70" stroke="#111" stroke-width="1.5"/>
<text x="1679.30" y="500.30" font-family='"Liberation Sans", sans-serif' font-size="28.9" font-weight="normal" text-anchor="end" fill="#111" stroke="#111" stroke-width="0.45">8</text>
<line x1="1707.50" y1="684.50" x2="1707.50" y2="676.70" stroke="#111" stroke-width="2.0"/>
<text x="1701.30" y="721.60" font-family='"Liberation Sans", sans-serif' font-size="28.9" font-weight="normal" text-anchor="start" fill="#111" stroke="#111" stroke-width="0.45">0</text>
<line x1="1782.24" y1="684.50" x2="1782.24" y2="676.70" stroke="#111" stroke-width="2.0"/>
<text x="1776.04" y="721.60" font-family='"Liberation Sans", sans-serif' font-size="28.9" font-weight="normal" text-anchor="start" fill="#111" stroke="#111" stroke-width="0.45">4</text>
<line x1="1856.98" y1="684.50" x2="1856.98" y2="676.70" stroke="#111" stroke-width="2.0"/>
<text x="1850.78" y="721.60" font-family='"Liberation Sans", sans-serif' font-size="28.9" font-weight="normal" text-anchor="start" fill="#111" stroke="#111" stroke-width="0.45">8</text>
<line x1="1931.72" y1="684.50" x2="1931.72" y2="676.70" stroke="#111" stroke-width="2.0"/>
<text x="1920.92" y="721.60" font-family='"Liberation Sans", sans-serif' font-size="28.9" font-weight="normal" text-anchor="start" fill="#111" stroke="#111" stroke-width="0.45">12</text>
<line x1="2006.46" y1="684.50" x2="2006.46" y2="676.70" stroke="#111" stroke-width="2.0"/>
<text x="1995.66" y="721.60" font-family='"Liberation Sans", sans-serif' font-size="28.9" font-weight="normal" text-anchor="start" fill="#111" stroke="#111" stroke-width="0.45">16</text>
<line x1="2081.20" y1="684.50" x2="2081.20" y2="676.70" stroke="#111" stroke-width="2.0"/>
<text x="2070.70" y="721.60" font-family='"Liberation Sans", sans-serif' font-size="28.9" font-weight="normal" text-anchor="start" fill="#111" stroke="#111" stroke-width="0.45">20</text>
<text transform="translate(1647.10,588.70) rotate(-90)" font-family='"Liberation Sans", sans-serif' font-size="28.9" font-weight="normal" text-anchor="middle" fill="#111" stroke="#111" stroke-width="0.45">Subjects</text>
<text x="1894.45" y="478.30" font-family='"Liberation Sans", sans-serif' font-size="28.9" font-weight="normal" text-anchor="middle" fill="#111" stroke="#111" stroke-width="0.45">Inverse temperature <tspan font-family='"Liberation Serif", serif'>θ</tspan></text>
<text x="1894.45" y="754.00" font-family='"Liberation Sans", sans-serif' font-size="28.9" font-weight="normal" text-anchor="middle" fill="#111" stroke="#111" stroke-width="0.45">Paramter estimate</text>
</svg>
</body></html>
